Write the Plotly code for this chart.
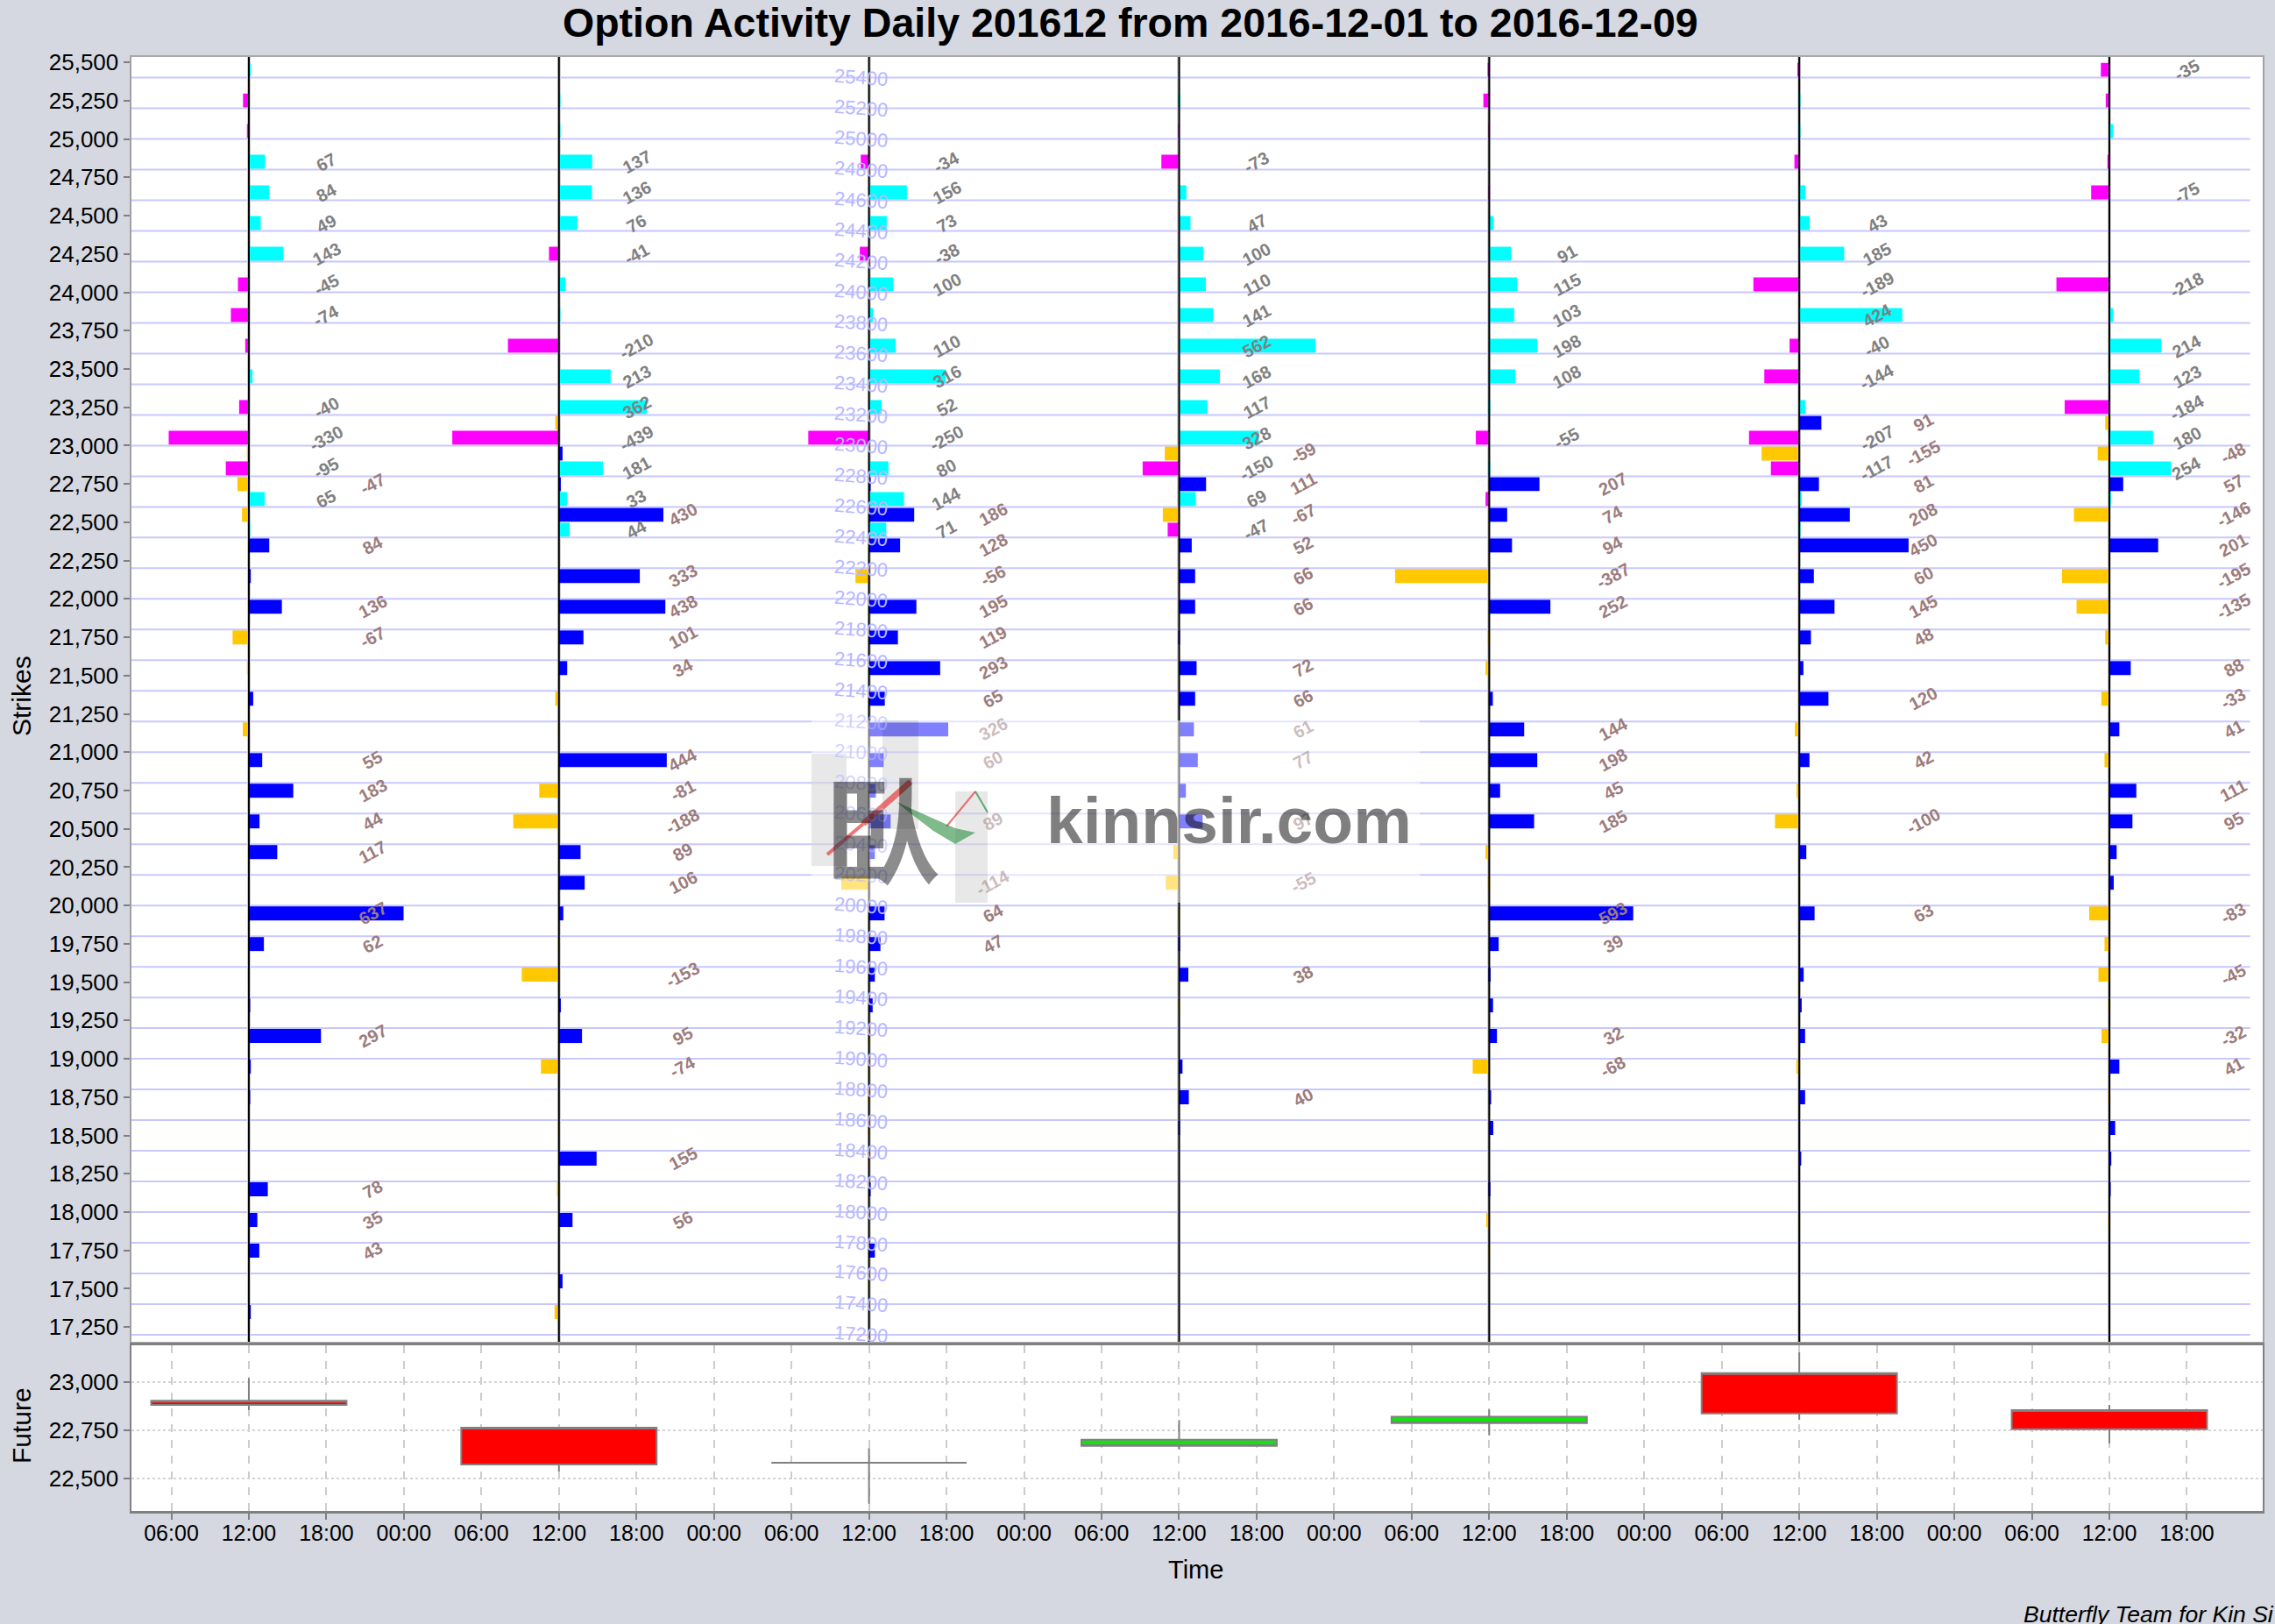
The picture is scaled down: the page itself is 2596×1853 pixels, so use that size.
import plotly.graph_objects as go

W, H = 2596, 1853

day_hours = [12, 36, 60, 84, 108, 132, 156]

call_strikes = [25400, 25200, 25000, 24800, 24600, 24400, 24200, 24000,
                23800, 23600, 23400, 23200, 23000, 22800, 22600, 22400]
dec01_call = [8, -24, -8, 67, 84, 49, 143, -45, -74, -15, 15, -40, -330, -95, 65, 4]
dec02_call = [0, 5, 3, 137, 136, 76, -41, 27, 3, -210, 213, 362, -439, 181, 33, 44]
dec05_call = [0, 3, 0, -34, 156, 73, -38, 100, 17, 110, 316, 52, -250, 80, 144, 71]
dec06_call = [0, 5, -3, -73, 30, 47, 100, 110, 141, 562, 168, 117, 328, -150, 69, -47]
dec07_call = [-3, -24, -2, 0, -2, 18, 91, 115, 103, 198, 108, 3, -55, 2, -15, 0]
dec08_call = [-8, 4, 3, -20, 25, 43, 185, -189, 424, -40, -144, 25, -207, -117, 10, 4]
dec09_call = [-35, -15, 15, -8, -75, 0, 0, -218, 15, 214, 123, -184, 180, 254, 7, 0]

put_strikes = [23000, 22800, 22600, 22400, 22200, 22000, 21800, 21600, 21400, 21200,
               21000, 20800, 20600, 20400, 20200, 20000, 19800, 19600, 19400, 19200,
               19000, 18800, 18600, 18400, 18200, 18000, 17800, 17600, 17400, 17200]
dec01_put = [0, -8, -47, -28, 84, 8, 136, -67, -8, 18, -25, 55, 183, 44, 117,
             0, 637, 62, -3, 3, 297, 8, 3, 0, 0, 78, 35, 43, 0, 8]
dec02_put = [-15, 15, 8, 430, 0, 333, 438, 101, 34, -15, -3, 444, -81, -188, 89,
             106, 18, -5, -153, 8, 95, -74, 0, -3, 155, -8, 56, 0, 15, -18]
dec05_put = [0, 0, 5, 186, 128, -56, 195, 119, 293, 65, 326, 60, 28, 89, 24,
             -114, 64, 47, 24, 15, -5, -3, -5, -1, -3, 6, 0, 24, -3, 0]
dec06_put = [0, -59, 111, -67, 52, 66, 66, 2, 72, 66, 61, 77, 28, 97, -24,
             -55, -3, 4, 38, -3, 0, 14, 40, 3, 0, 0, 0, 0, 0, 0]
dec07_put = [0, 0, 207, 74, 94, -387, 252, -5, -15, 15, 144, 198, 45, 185, -15,
             -4, 593, 39, 6, 16, 32, -68, 8, 17, 0, 5, -12, -1, 0, 0]
dec08_put = [91, -155, 81, 208, 450, 60, 145, 48, 17, 120, -18, 42, -11, -100, 29,
             -2, 63, 0, 18, 10, 24, -12, 24, 0, 8, 0, -2, 0, 0, 0]
dec09_put = [-17, -48, 57, -146, 201, -195, -135, -17, 88, -33, 41, -20, 111, 95, 30,
             18, -83, -20, -45, -2, -32, 41, -3, 24, 8, 2, -2, 0, 0, 0]

future_open = [22882, 22573, 22582, 22701, 22821, 22838, 22756]
future_high = [23020, 22764, 22658, 22804, 22858, 23155, 22882]
future_low = [22855, 22536, 22370, 22650, 22724, 22805, 22682]
future_close = [22903, 22764, 22582, 22670, 22788, 23047, 22855]

grid_strikes = list(range(17200, 25600, 200))
strike_ticks = list(range(17250, 25750, 250))
future_ticks = [22500, 22750, 23000]
time_ticks = list(range(6, 168, 6))
time_labels = [["00:00", "06:00", "12:00", "18:00"][(h // 6) % 4] for h in time_ticks]

all_calls = [dec01_call, dec02_call, dec05_call, dec06_call, dec07_call, dec08_call, dec09_call]
all_puts = [dec01_put, dec02_put, dec05_put, dec06_put, dec07_put, dec08_put, dec09_put]

X_RANGE = [2.88, 167.87]
TOP_RANGE = [17154, 25535]
HOURS_PER_CONTRACT = 0.0188
BAR_HEIGHT = 92
CALL_OFFSET = 5
PUT_OFFSET = 103
LABEL_MIN = 32
CALL_LABEL_SHIFT = 6.0
PUT_LABEL_SHIFT = 9.6
TOP_PUSH = 9  # the page draws the plot area this many pixels below the top


def px(x):
    return x / W


def py(y):
    return 1 - (y - TOP_PUSH) / (H - TOP_PUSH)


def bar_colors(values, up, down):
    return [up if v >= 0 else down for v in values]


def in_veil(x, y):
    return 55.5 <= x <= 102.6 and 20020 <= y <= 21209


fig = go.Figure()
annotations = []

# Option bars, one call and one put trace for each trading day
for day, calls, puts in zip(day_hours, all_calls, all_puts):
    fig.add_trace(go.Bar(x=[v * HOURS_PER_CONTRACT for v in calls], y=call_strikes, base=day,
                         orientation="h", width=BAR_HEIGHT, offset=CALL_OFFSET,
                         marker=dict(color=bar_colors(calls, "#00ffff", "#ff00ff"), line=dict(width=0)),
                         xaxis="x", yaxis="y", showlegend=False))
    fig.add_trace(go.Bar(x=[v * HOURS_PER_CONTRACT for v in puts], y=put_strikes, base=day,
                         orientation="h", width=BAR_HEIGHT, offset=PUT_OFFSET,
                         marker=dict(color=bar_colors(puts, "#0000ff", "#ffc800"), line=dict(width=0)),
                         xaxis="x", yaxis="y", showlegend=False))

    for strike, v in zip(call_strikes, calls):
        if abs(v) >= LABEL_MIN:
            lx, ly = day + CALL_LABEL_SHIFT, strike + CALL_OFFSET + BAR_HEIGHT / 2
            annotations.append(dict(x=lx, y=ly, xref="x", yref="y", text=str(v), textangle=-28,
                                    font=dict(family="Liberation Sans", size=20, color="#808080", weight="bold"),
                                    opacity=0.5 if in_veil(lx, ly) else 1))
    for strike, v in zip(put_strikes, puts):
        if abs(v) >= LABEL_MIN:
            lx, ly = day + PUT_LABEL_SHIFT, strike + PUT_OFFSET + BAR_HEIGHT / 2
            annotations.append(dict(x=lx, y=ly, xref="x", yref="y", text=str(v), textangle=-28,
                                    font=dict(family="Liberation Sans", size=20, color="#9c7c7c", weight="bold"),
                                    opacity=0.5 if in_veil(lx, ly) else 1))

# Strike grid and the noon line of each day, drawn over the bars
grid_x, grid_y = [], []
for k in grid_strikes:
    grid_x += [X_RANGE[0], 166.9, None]
    grid_y += [k, k, None]
fig.add_trace(go.Scatter(x=grid_x, y=grid_y, mode="lines", line=dict(color="#c8c8ff", width=2),
                         xaxis="x", yaxis="y", showlegend=False, hoverinfo="skip"))

noon_x, noon_y = [], []
for d in day_hours:
    noon_x += [d, d, None]
    noon_y += [TOP_RANGE[0], TOP_RANGE[1], None]
fig.add_trace(go.Scatter(x=noon_x, y=noon_y, mode="lines", line=dict(color="#000000", width=2),
                         xaxis="x", yaxis="y", showlegend=False, hoverinfo="skip"))

fig.add_trace(go.Candlestick(x=day_hours, open=future_open, high=future_high, low=future_low, close=future_close,
                             increasing=dict(fillcolor="#ff0000", line=dict(color="#808080", width=2)),
                             decreasing=dict(fillcolor="#0ee60e", line=dict(color="#808080", width=2)),
                             whiskerwidth=0, xaxis="x2", yaxis="y2", showlegend=False))

# Strike numbers printed along the Dec 5 noon line
for k in grid_strikes:
    annotations.append(dict(x=day_hours[2] - 0.6, y=k, xref="x", yref="y", text=str(k), textangle=4,
                            font=dict(family="Liberation Sans", size=22, color="#b8b8ff"),
                            opacity=0.6 if in_veil(day_hours[2], k) else 1))

# Plain page texts
annotations += [
    dict(x=px(1290), y=py(26), text="<b>Option Activity Daily 201612 from 2016-12-01 to 2016-12-09</b>",
         font=dict(family="Liberation Sans", size=46.5, color="#000000")),
    dict(x=px(24), y=py(794), text="Strikes", textangle=-90, font=dict(family="Liberation Sans", size=30, color="#000000")),
    dict(x=px(24), y=py(1627), text="Future", textangle=-90, font=dict(family="Liberation Sans", size=30, color="#000000")),
    dict(x=px(1364), y=py(1791), text="Time", font=dict(family="Liberation Sans", size=29, color="#000000")),
    dict(x=px(2307), y=py(1842), xanchor="left", text="<i>Butterfly Team for Kin Si</i>",
         font=dict(family="Liberation Sans", size=26.5, color="#000000")),
    dict(x=px(1006), y=py(940), text="<b>臥</b>", font=dict(family="Noto Sans CJK TC", size=132, color="rgba(0,0,0,0.45)")),
    dict(x=px(1403), y=py(936), text="<b>kinnsir.com</b>", font=dict(family="Liberation Sans", size=75, color="rgba(0,0,0,0.5)")),
]
for a in annotations:
    a.setdefault("xref", "paper")
    a.setdefault("yref", "paper")
    a.setdefault("showarrow", False)
    a.setdefault("xanchor", "center")
    a.setdefault("yanchor", "middle")


def rect(x0, y0, x1, y1, color):
    return dict(type="rect", xref="paper", yref="paper", x0=px(x0), y0=py(y0), x1=px(x1), y1=py(y1),
                fillcolor=color, line=dict(width=0), layer="above")


def seg(x0, y0, x1, y1, color, width):
    return dict(type="line", xref="paper", yref="paper", x0=px(x0), y0=py(y0), x1=px(x1), y1=py(y1),
                line=dict(color=color, width=width), layer="above")


green_pts = [(1023, 915), (1045, 925), (1090, 945), (1113, 950), (1090, 963), (1065, 948), (1035, 925)]
green_path = "M " + " L ".join(f"{px(x)} {py(y)}" for x, y in green_pts) + " Z"

# Watermark: white veil, pale logo blocks and the two pen strokes
shapes = [
    rect(926, 822, 1620, 1030, "rgba(255,255,255,0.5)"),
    rect(926, 860, 966, 988, "rgba(0,0,0,0.09)"),
    rect(1007, 822, 1048, 946, "rgba(0,0,0,0.09)"),
    rect(1090, 903, 1127, 1030, "rgba(0,0,0,0.09)"),
    seg(944, 975, 985, 940, "rgba(230,60,60,0.7)", 4),
    seg(985, 940, 1039, 892, "rgba(230,60,60,0.7)", 7),
    seg(1080, 943, 1113, 903, "rgba(230,60,60,0.7)", 2),
    seg(1113, 903, 1127, 927, "rgba(40,140,60,0.7)", 2),
    dict(type="path", xref="paper", yref="paper", path=green_path, fillcolor="rgba(40,140,60,0.6)",
         line=dict(width=0), layer="above"),
]

fig.update_layout(
    width=W, height=H,
    margin=dict(l=0, r=0, t=0, b=0),
    paper_bgcolor="#d5d8e0",
    plot_bgcolor="#ffffff",
    barmode="overlay",
    boxgap=0.37,
    boxgroupgap=0,
    annotations=annotations,
    shapes=shapes,
    font=dict(family="Liberation Sans", color="#000000"),
    xaxis=dict(domain=[px(149.5), px(2582)], range=X_RANGE, anchor="y", showticklabels=False, ticks="",
               tickmode="array", tickvals=day_hours, showgrid=True, gridcolor="#cfcfcf", gridwidth=4,
               zeroline=False, showline=True, linecolor="#a8a8a8", linewidth=2, mirror=True),
    yaxis=dict(domain=[py(1531), py(65)], range=TOP_RANGE, anchor="x", tickmode="array", tickvals=strike_ticks,
               tickformat=",d", ticks="outside", ticklen=7, tickwidth=2, tickcolor="#808080",
               tickfont=dict(size=26), showgrid=False, zeroline=False, showline=True, linecolor="#a0a0a0",
               linewidth=2, mirror=True),
    xaxis2=dict(domain=[px(149.5), px(2582)], range=X_RANGE, anchor="y2", tickmode="array", tickvals=time_ticks,
                ticktext=time_labels, ticks="outside", ticklen=7, tickwidth=2, tickcolor="#808080",
                tickfont=dict(size=25), ticklabelstandoff=-6, showgrid=True, gridcolor="#cccccc", griddash="dash",
                gridwidth=1.5, zeroline=False, showline=True, linecolor="#808080", linewidth=3, mirror=True,
                rangeslider=dict(visible=False)),
    yaxis2=dict(domain=[py(1724), py(1535)], range=[22332, 23191], anchor="x2", tickmode="array",
                tickvals=future_ticks, tickformat=",d", ticks="outside", ticklen=7, tickwidth=2, tickcolor="#808080",
                tickfont=dict(size=26), showgrid=True, gridcolor="#d4d4d4", griddash="dot", gridwidth=1.5,
                zeroline=False, showline=True, linecolor="#808080", linewidth=2, mirror=True),
)

fig.write_html("out.html", post_script="document.body.style.margin='0';", config={"displayModeBar": False})
